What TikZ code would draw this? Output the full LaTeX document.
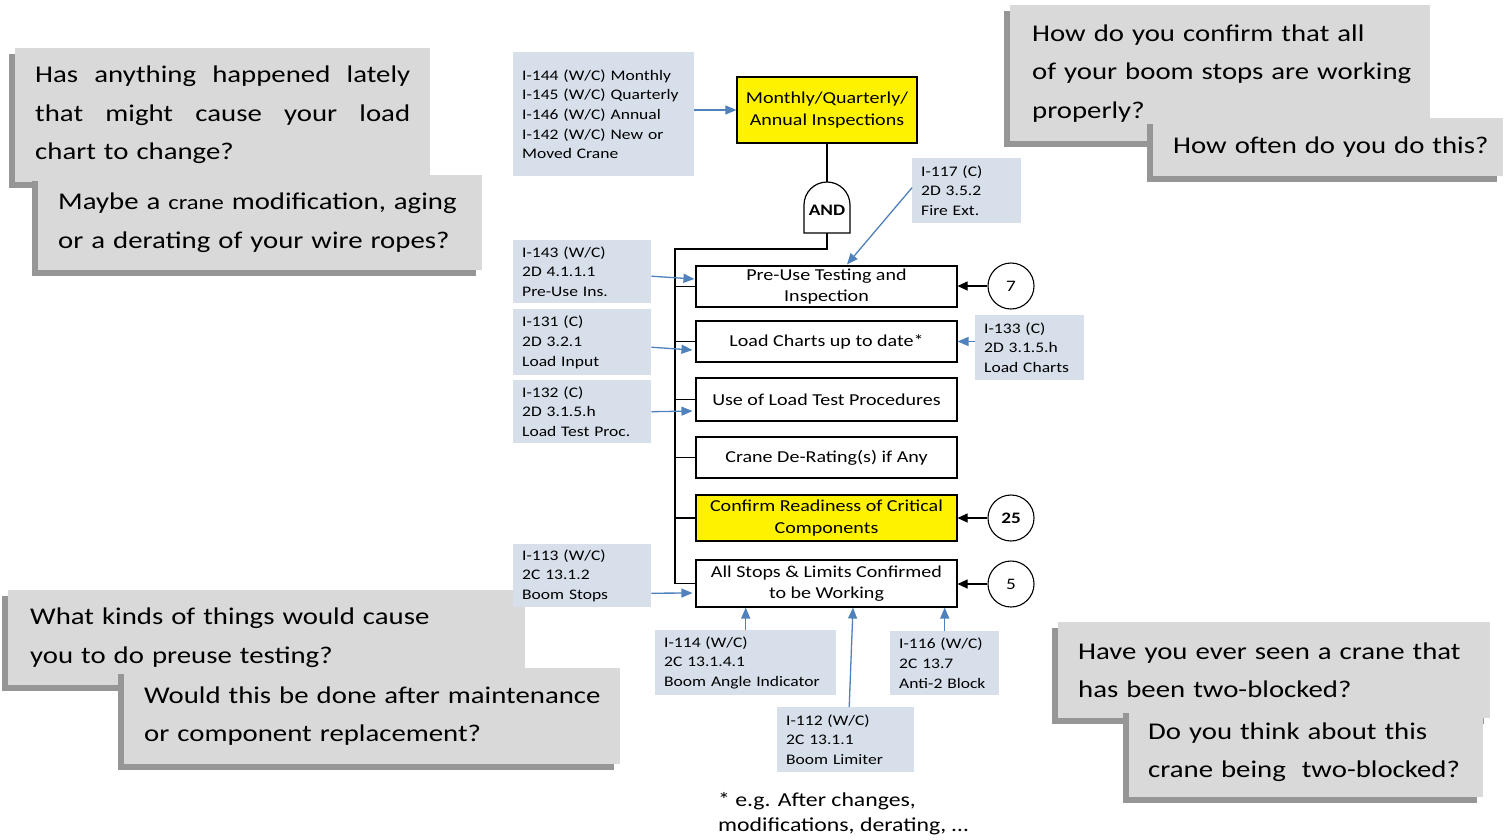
\documentclass[tikz,border=0pt]{standalone}
\usepackage{fontspec}
\setmainfont{Carlito}
\newfontfamily\widefont[FakeStretch=1.2]{Carlito}
\usetikzlibrary{arrows.meta,calc,shadows}

\definecolor{calloutgray}{RGB}{217,217,217}
\definecolor{shadowgray}{RGB}{150,150,150}
\definecolor{refblue}{RGB}{214,223,234}
\definecolor{linkblue}{RGB}{79,129,189}

\tikzset{
  callout/.style={fill=calloutgray, anchor=north west, inner xsep=20pt, inner ysep=0pt,
    align=left, font=\widefont\fontsize{24}{38.5}\selectfont,
    drop shadow={shadow xshift=-6pt, shadow yshift=-6pt, fill=shadowgray, opacity=1}},
  refbox/.style={fill=refblue, anchor=north west, inner xsep=9pt, inner ysep=0pt,
    align=left, font=\widefont\fontsize{14.6}{19.7}\selectfont},
  mainbox/.style={draw, line width=1.1pt, fill=white, minimum width=261pt, inner sep=0pt,
    align=center, font=\widefont\fontsize{16.7}{21.5}\selectfont},
  hilite/.style={mainbox, fill=yellow},
  numcirc/.style={draw, circle, line width=1.1pt, minimum size=46pt, inner sep=0pt,
    font=\widefont\fontsize{16}{18}\selectfont},
  reflink/.style={draw=linkblue, line width=1.3pt, -{Triangle[length=11pt,width=9pt]}, fill=linkblue},
  numlink/.style={draw, line width=1.1pt, -{Triangle[length=10pt,width=9pt]}},
  trunk/.style={draw, line width=2.4pt},
  branch/.style={draw, line width=1.1pt},
}

\begin{document}
\begin{tikzpicture}[x=1pt, y=-1pt]
\useasboundingbox (0,0) rectangle (1512,839);

% ---- discussion callouts ----
\node[callout, minimum width=415pt, minimum height=134pt, text width=375pt] (q1) at (15,48)
  {\makebox[375pt][l]{Has\hfill anything\hfill happened\hfill lately}\\
   \makebox[375pt][l]{that\hfill might\hfill cause\hfill your\hfill load}\\
   \mbox{chart to change?}};
\node[callout, minimum width=444pt, minimum height=95pt, text width=404pt] (q2) at (38,175)
  {\mbox{Maybe a {\fontsize{20.5}{38.5}\selectfont crane} modification, aging}\\
   \mbox{or a derating of your wire ropes?}};

\node[callout, minimum width=420pt, minimum height=136pt, text width=376pt, inner xsep=22pt] (q3) at (1010,5)
  {\mbox{How do you confirm that all}\\ \mbox{of your boom stops are working}\\ \mbox{properly?}};
\node[callout, minimum width=350pt, minimum height=58pt, text width=310pt] (q4) at (1153,118)
  {\mbox{How often do you do this?}};

\node[callout, minimum width=517pt, minimum height=95pt, text width=473pt, inner xsep=22pt] (q5) at (8,590)
  {\mbox{What kinds of things would cause}\\ \mbox{you to do preuse testing?}};
\node[callout, minimum width=496pt, minimum height=96pt, text width=456pt] (q6) at (124,668)
  {\mbox{Would this be done after maintenance}\\ \mbox{or component replacement?}};

\node[callout, minimum width=432pt, minimum height=96pt, text width=392pt] (q7) at (1058,622)
  {\mbox{Have you ever seen a crane that}\\ \mbox{has been two-blocked?}};
\node[callout, minimum width=354pt, minimum height=90pt, text width=316pt, inner xsep=19pt] (q8) at (1129,707)
  {\mbox{Do you think about this}\\ \mbox{crane being\ \ two-blocked?}};

% ---- top event and AND gate ----
\node[hilite, minimum width=180pt, minimum height=66pt] (top) at (827,110)
  {Monthly/Quarterly/\\Annual Inspections};

\coordinate (gtop) at (827,182);
\coordinate (gbot) at (827,233);
\draw[line width=1.2pt, fill=white] (804,233) -- (804,205)
  .. controls (804,192.3) and (814.3,182) .. (827,182)
  .. controls (839.7,182) and (850,192.3) .. (850,205) -- (850,233) -- cycle;
\node[font=\widefont\fontsize{16}{18}\selectfont\bfseries] (andlbl) at (827,210) {AND};
\draw[branch, line width=1.2pt] (top.south) -- (gtop);

% ---- sub-events ----
\node[mainbox, minimum height=41pt] (pre) at (826.5,286.5) {Pre-Use Testing and\\Inspection};
\node[mainbox, minimum height=41pt] (load) at (826.5,341.5) {Load Charts up to date*};
\node[mainbox, minimum height=43pt] (use) at (826.5,399.5) {Use of Load Test Procedures};
\node[mainbox, minimum height=41pt] (derate) at (826.5,457.5) {Crane De-Rating(s) if Any};
\node[hilite, minimum height=46pt] (confirm) at (826.5,518) {Confirm Readiness of Critical\\Components};
\node[mainbox, minimum height=47pt] (stops) at (826.5,583.5) {All Stops \& Limits Confirmed\\to be Working};

% ---- gate output bus ----
\coordinate (bus) at (675,249);
\draw[trunk] (gbot) |- (bus) -- (bus |- stops.west);
\foreach \n in {pre,load,use,derate,confirm,stops}
  \draw[branch] (bus |- \n.west) -- (\n.west);

% ---- linked diagrams ----
\node[numcirc] (c7) at (1011,286) {7};
\node[numcirc, font=\widefont\fontsize{16}{18}\selectfont\bfseries] (c25) at (1011,518) {25};
\node[numcirc] (c5) at (1011,584) {5};
\draw[numlink] (c7) -- (c7 -| pre.east);
\draw[numlink] (c25) -- (c25 -| confirm.east);
\draw[numlink] (c5) -- (c5 -| stops.east);

% ---- reference boxes ----
\node[refbox, minimum width=181pt, minimum height=124pt, text width=163pt] (r144) at (513,52)
  {I-144 (W/C) Monthly\\I-145 (W/C) Quarterly\\I-146 (W/C) Annual\\I-142 (W/C) New or\\Moved Crane};
\node[refbox, minimum width=109pt, minimum height=65pt, text width=91pt] (r117) at (912,158)
  {I-117 (C)\\2D 3.5.2\\Fire Ext.};
\node[refbox, minimum width=138pt, minimum height=63pt, text width=120pt] (r143) at (513,240)
  {I-143 (W/C)\\2D 4.1.1.1\\Pre-Use Ins.};
\node[refbox, minimum width=138pt, minimum height=66pt, text width=120pt] (r131) at (513,309)
  {I-131 (C)\\2D 3.2.1\\Load Input};
\node[refbox, minimum width=138pt, minimum height=63pt, text width=120pt] (r132) at (513,380)
  {I-132 (C)\\2D 3.1.5.h\\Load Test Proc.};
\node[refbox, minimum width=109pt, minimum height=65pt, text width=91pt] (r133) at (975,315)
  {I-133 (C)\\2D 3.1.5.h\\Load Charts};
\node[refbox, minimum width=138pt, minimum height=63pt, text width=120pt] (r113) at (513,544)
  {I-113 (W/C)\\2C 13.1.2\\Boom Stops};
\node[refbox, minimum width=181pt, minimum height=65pt, text width=163pt] (r114) at (655,630)
  {I-114 (W/C)\\2C 13.1.4.1\\Boom Angle Indicator};
\node[refbox, minimum width=109pt, minimum height=64pt, text width=91pt] (r116) at (890,631)
  {I-116 (W/C)\\2C 13.7\\Anti-2 Block};
\node[refbox, minimum width=137pt, minimum height=65pt, text width=119pt] (r112) at (777,707)
  {I-112 (W/C)\\2C 13.1.1\\Boom Limiter};

% ---- reference links ----
\draw[reflink] (r144.east |- top.west) -- (top.west);
\draw[reflink] ($(r117.west)+(0,-3)$) -- ($(pre.north)+(20.5,-1)$);
\draw[reflink] ($(r143.east)+(0,4.5)$) -- ($(pre.west)+(-1,-7.5)$);
\draw[reflink] ($(r131.east)+(0,5)$) -- ($(load.west)+(-3,8.5)$);
\draw[reflink] (r132.east) -- ($(use.west)+(-3,11.5)$);
\draw[reflink] (r133.west |- load.east) -- (load.east);
\draw[reflink] ($(r113.east)+(0,17.5)$) -- ($(stops.west)+(-3,9.5)$);
\draw[reflink] (r114.north) -- (r114.north |- stops.south);
\draw[reflink] (r116.north) -- (r116.north |- stops.south);
\draw[reflink] ($(r112.north)+(3.5,0)$) -- ($(stops.south)+(26.5,0)$);

% ---- footnote ----
\node[anchor=west, inner sep=0pt, align=left, font=\widefont\fontsize{19.8}{25}\selectfont] (note) at (718,813.5)
  {* e.g. After changes,\\modifications, derating, \dots};
\end{tikzpicture}
\end{document}
